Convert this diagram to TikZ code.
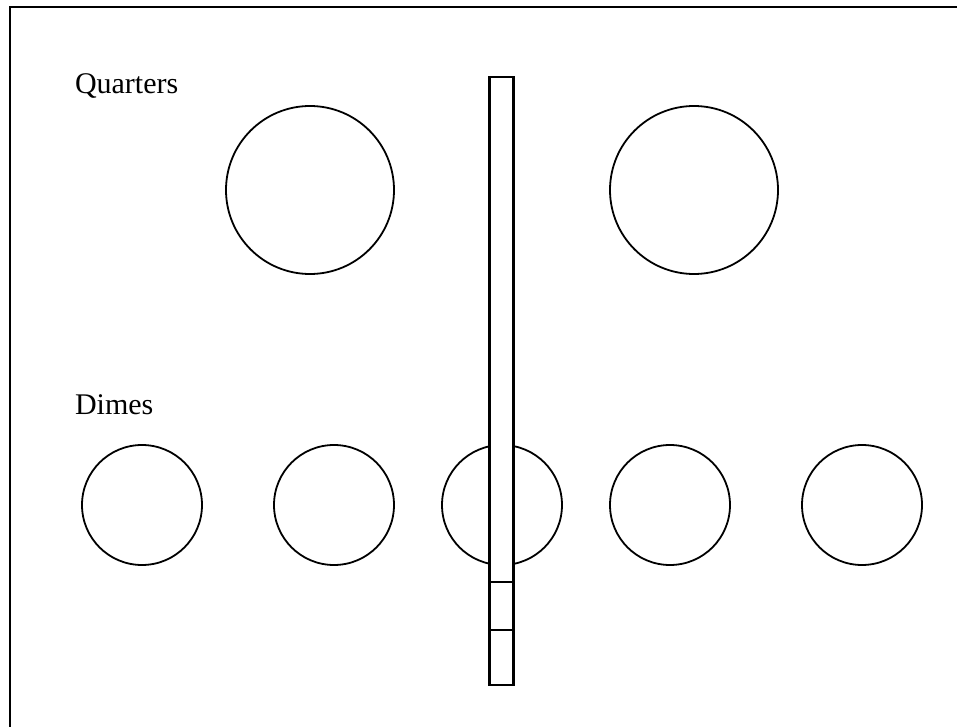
\documentclass[tikz,border=0pt]{standalone}
\usepackage{fontspec}
\setmainfont{Liberation Serif}
\usepackage{tikz}
\usetikzlibrary{shapes,calc}

\begin{document}
\begin{tikzpicture}[x=1pt,y=-1pt,
	every node/.style={inner sep=0pt,outer sep=0pt},
	label text/.style={anchor=base west,font=\fontsize{30}{36}\selectfont},
	quarter/.style={draw,circle,line width=1.8pt,minimum size=168pt},
	dime/.style={draw,circle,line width=1.8pt,minimum size=120pt},
	strip/.style={draw,rectangle,fill=white,line width=2.3pt,minimum width=24pt,minimum height=608pt}]

		\useasboundingbox (0,0) rectangle (957,727);

		% Frame
		\coordinate (F-tl) at (10,7);
		\coordinate (F-tr) at (957,7);
		\coordinate (F-bl) at (10,727);
		\draw [line width=2.6pt] (F-tr) -- (F-tl) -- (F-bl);

		% Labels
		\node [label text] (Q-label) at (75,94) {Quarters};
		\node [label text] (D-label) at (75,414) {Dimes};

		% Quarters
		\node [quarter] (Q1) at (310,190) {};
		\node [quarter] (Q2) at (694,190) {};

		% Dimes
		\node [dime] (D1) at (142,505) {};
		\node [dime] (D2) at (334,505) {};
		\node [dime] (D3) at (502,505) {};
		\node [dime] (D4) at (670,505) {};
		\node [dime] (D5) at (862,505) {};

		% Strip
		\node [strip] (S) at (501.5,381) {};
		\draw [line width=2.3pt] (S.west |- 0,582) -- (S.east |- 0,582);
		\draw [line width=2.3pt] (S.west |- 0,630) -- (S.east |- 0,630);

	\end{tikzpicture}
\end{document}
